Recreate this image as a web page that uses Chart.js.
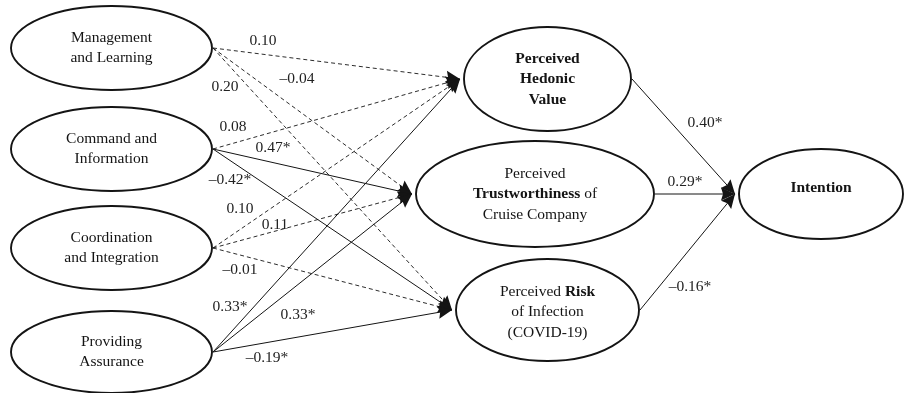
<!DOCTYPE html>
<html>
<head>
<meta charset="utf-8">
<script src="https://cdn.jsdelivr.net/npm/chart.js@4.4.1/dist/chart.umd.min.js"></script>
<style>
  html, body { margin: 0; padding: 0; background: #fff; }
  #wrap { width: 905px; height: 393px; position: relative; }
</style>
</head>
<body>
<div id="wrap"><canvas id="c"></canvas></div>
<script>
// ---- Model data ----
const nodeIds = ['ML', 'CI', 'CO', 'PA', 'PHV', 'PTC', 'PRI', 'INT'];
// Each label line is a list of [text, bold] runs
const nodeLabels = {
  ML:  [[['Management', false]], [['and Learning', false]]],
  CI:  [[['Command and', false]], [['Information', false]]],
  CO:  [[['Coordination', false]], [['and Integration', false]]],
  PA:  [[['Providing', false]], [['Assurance', false]]],
  PHV: [[['Perceived', true]], [['Hedonic', true]], [['Value', true]]],
  PTC: [[['Perceived', false]], [['Trustworthiness', true], [' of', false]], [['Cruise Company', false]]],
  PRI: [[['Perceived ', false], ['Risk', true]], [['of Infection', false]], [['(COVID-19)', false]]],
  INT: [[['Intention', true]]]
};
const pathFrom = ['ML', 'ML', 'ML', 'CI', 'CI', 'CI', 'CO', 'CO', 'CO', 'PA', 'PA', 'PA', 'PHV', 'PTC', 'PRI'];
const pathTo   = ['PHV', 'PTC', 'PRI', 'PHV', 'PTC', 'PRI', 'PHV', 'PTC', 'PRI', 'PHV', 'PTC', 'PRI', 'INT', 'INT', 'INT'];
const pathCoef = [0.10, -0.04, 0.20, 0.08, 0.47, -0.42, 0.10, 0.11, -0.01, 0.33, 0.33, -0.19, 0.40, 0.29, -0.16];
const pathSig  = [false, false, false, false, true, true, false, false, false, true, true, true, true, true, true];

// ---- Layout (drawing units match the 905 x 393 canvas) ----
const nodeGeom = {
  ML:  { cx: 111.5, cy: 48,  rx: 101.5, ry: 43 },
  CI:  { cx: 111.5, cy: 149, rx: 101.5, ry: 43 },
  CO:  { cx: 111.5, cy: 248, rx: 101.5, ry: 43 },
  PA:  { cx: 111.5, cy: 352, rx: 101.5, ry: 42 },
  PHV: { cx: 547.5, cy: 79,  rx: 84.5,  ry: 53 },
  PTC: { cx: 535,   cy: 194, rx: 120,   ry: 54 },
  PRI: { cx: 547.5, cy: 310, rx: 92.5,  ry: 52, textDy: 2 },
  INT: { cx: 821,   cy: 194, rx: 83,    ry: 46, textDy: -6 }
};
const arrowGap = 3;   // space between arrow tip and target outline
const coefLabelPos = [
  [263, 41], [297, 79], [225, 87],
  [233, 127], [273, 148], [230, 180],
  [240, 209], [275, 225], [240, 270],
  [230, 307], [298, 315], [267, 358],
  [705, 123], [685, 182], [690, 287]
];

const FONT_FAMILY = '"Liberation Serif", "Times New Roman", serif';
const FONT_SIZE = 15.5;
const INK = '#141414';

function fmtCoef(v, sig) {
  return (v < 0 ? '\u2013' : '') + Math.abs(v).toFixed(2) + (sig ? '*' : '');
}

// One line dataset per structural path: source right edge -> target left edge
const datasets = pathFrom.map((from, i) => {
  const s = nodeGeom[from], t = nodeGeom[pathTo[i]];
  return {
    type: 'line',
    data: [{ x: s.cx + s.rx, y: s.cy }, { x: t.cx - t.rx - arrowGap, y: t.cy }],
    borderColor: INK,
    borderWidth: pathSig[i] ? 1 : 0.9,
    borderDash: pathSig[i] ? [] : [4, 3],
    pointRadius: 0,
    fill: false,
    tension: 0
  };
});

// Arrowheads at the end of every path
const arrowPlugin = {
  id: 'arrowheads',
  afterDatasetsDraw(chart) {
    const ctx = chart.ctx;
    chart.data.datasets.forEach((ds, i) => {
      const pts = chart.getDatasetMeta(i).data;
      if (pts.length < 2) return;
      const a = pts[pts.length - 2], b = pts[pts.length - 1];
      const ang = Math.atan2(b.y - a.y, b.x - a.x);
      const L = 14, W = 6.5, notch = 12;
      ctx.save();
      ctx.translate(b.x, b.y);
      ctx.rotate(ang);
      ctx.beginPath();
      ctx.moveTo(0, 0);
      ctx.lineTo(-L, -W);
      ctx.lineTo(-notch, 0);
      ctx.lineTo(-L, W);
      ctx.closePath();
      ctx.fillStyle = INK;
      ctx.fill();
      ctx.restore();
    });
  }
};

// Latent-construct ellipses with their labels
const nodePlugin = {
  id: 'nodes',
  afterDatasetsDraw(chart) {
    const ctx = chart.ctx;
    const xs = chart.scales.x, ys = chart.scales.y;
    nodeIds.forEach(id => {
      const g = nodeGeom[id];
      const px = xs.getPixelForValue(g.cx), py = ys.getPixelForValue(g.cy);
      const prx = Math.abs(xs.getPixelForValue(g.cx + g.rx) - px);
      const pry = Math.abs(ys.getPixelForValue(g.cy + g.ry) - py);
      ctx.save();
      ctx.beginPath();
      ctx.ellipse(px, py, prx - 1, pry - 1, 0, 0, Math.PI * 2);
      ctx.lineWidth = 1.9;
      ctx.strokeStyle = INK;
      ctx.stroke();

      const lines = nodeLabels[id];
      const lh = 20.5;
      const y0 = py + (g.textDy || 0) - (lines.length - 1) * lh / 2;
      ctx.fillStyle = INK;
      ctx.textBaseline = 'middle';
      ctx.textAlign = 'left';
      lines.forEach((runs, li) => {
        let total = 0;
        const widths = runs.map(([txt, bold]) => {
          ctx.font = (bold ? 'bold ' : '') + FONT_SIZE + 'px ' + FONT_FAMILY;
          const w = ctx.measureText(txt).width;
          total += w;
          return w;
        });
        let x = px - total / 2;
        runs.forEach(([txt, bold], ri) => {
          ctx.font = (bold ? 'bold ' : '') + FONT_SIZE + 'px ' + FONT_FAMILY;
          ctx.fillText(txt, x, y0 + li * lh);
          x += widths[ri];
        });
      });
      ctx.restore();
    });
  }
};

// Path coefficient labels
const coefPlugin = {
  id: 'coefs',
  afterDatasetsDraw(chart) {
    const ctx = chart.ctx;
    const xs = chart.scales.x, ys = chart.scales.y;
    ctx.save();
    ctx.font = FONT_SIZE + 'px ' + FONT_FAMILY;
    ctx.fillStyle = '#222';
    ctx.textAlign = 'center';
    ctx.textBaseline = 'middle';
    pathCoef.forEach((v, i) => {
      const [lx, ly] = coefLabelPos[i];
      ctx.fillText(fmtCoef(v, pathSig[i]), xs.getPixelForValue(lx), ys.getPixelForValue(ly));
    });
    ctx.restore();
  }
};

new Chart(document.getElementById('c'), {
  type: 'scatter',
  data: { datasets },
  options: {
    responsive: true,
    maintainAspectRatio: false,
    animation: false,
    layout: { padding: 0 },
    plugins: { legend: { display: false }, tooltip: { enabled: false } },
    scales: {
      x: { type: 'linear', min: 0, max: 905, display: false },
      y: { type: 'linear', min: 0, max: 393, reverse: true, display: false }
    }
  },
  plugins: [arrowPlugin, nodePlugin, coefPlugin]
});
</script>
</body>
</html>
